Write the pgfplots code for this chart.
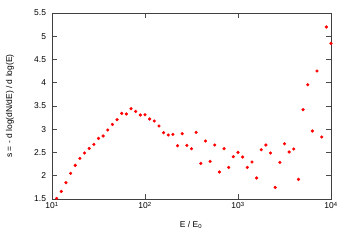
\documentclass[border=0pt]{standalone}
\usepackage{fontspec}
\setmainfont{Liberation Sans}
\usepackage{pgfplots}
\pgfplotsset{compat=1.18}
\begin{document}
\fontsize{8.5}{10}\selectfont
\begin{tikzpicture}
\begin{axis}[
  scale only axis, width=279bp, height=186bp,
  at={(0,0)}, anchor=south west,
  xmode=log, log basis x=10,
  xmin=10, xmax=10000, ymin=1.5, ymax=5.5,
  xtick={10,100,1000,10000},
  xticklabels={10\textsuperscript{1},10\textsuperscript{2},10\textsuperscript{3},10\textsuperscript{4}},
  ytick={1.5,2,2.5,3,3.5,4,4.5,5,5.5},
  yticklabels={1.5,2,2.5,3,3.5,4,4.5,5,5.5},
  minor y tick num=0,
  major tick length=5bp, minor tick length=2.5bp,
  tick style={black!70, line width=0.6pt},
  axis line style={black!75, line width=0.7pt},
  tick label style={font=\fontsize{8.5}{10}\selectfont},
  yticklabel style={xshift=-3bp},
  /pgf/number format/assume math mode=true,
  clip=false,
]
\addplot[only marks, mark=*, mark size=1.4pt, color=red] table[x expr={10^(1+0.05*\thisrow{i})}, y=s] {
i s
1 1.513
2 1.663
3 1.851
4 2.051
5 2.223
6 2.373
7 2.489
8 2.588
9 2.674
10 2.803
11 2.855
12 2.984
13 3.104
14 3.205
15 3.341
16 3.328
17 3.442
18 3.384
19 3.306
20 3.313
21 3.220
22 3.177
23 3.070
24 2.926
25 2.876
26 2.889
27 2.646
28 2.904
29 2.653
30 2.582
31 2.932
32 2.266
33 2.747
34 2.309
35 2.661
36 2.081
37 2.582
38 2.180
39 2.410
40 2.502
41 2.403
42 2.180
43 2.296
44 1.952
45 2.560
46 2.661
47 2.489
48 1.749
49 2.287
50 2.689
51 2.511
52 2.575
53 1.922
54 3.420
55 3.958
56 2.962
57 4.253
58 2.833
59 5.199
60 4.846
};
\end{axis}
\node[rotate=90] at (-42bp,93bp) {s = - d log(dN/dE) / d log(E)};
\node at (139bp,-26bp) {E / E\textsubscript{0}};
\pgfresetboundingbox
\path (-52bp,-46bp) rectangle (298bp,199bp);
\end{tikzpicture}
\end{document}
